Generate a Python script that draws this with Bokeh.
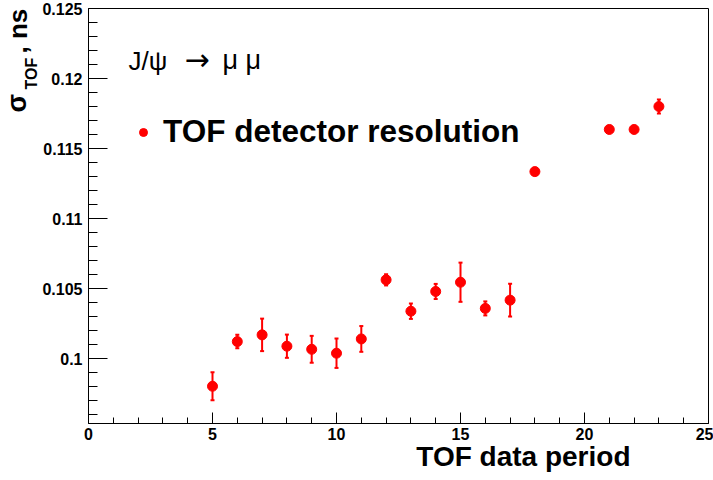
import math
from bokeh.plotting import figure
from bokeh.models import (ColumnDataSource, Whisker, TeeHead, Label, Legend, LegendItem,
                          FixedTicker, Range1d, LinearAxis)
from bokeh.embed import file_html
from bokeh.resources import INLINE

# ---- data ----
periods = [5, 6, 7, 8, 9, 10, 11, 12, 13, 14, 15, 16, 17, 18, 21, 22, 23]
sigma_tof = [0.09802, 0.10121, 0.10169, 0.10088, 0.10066, 0.10038, 0.10140, 0.10562,
             0.10338, 0.10479, 0.10545, 0.10358, 0.10417, 0.11335, 0.11636, 0.11636, 0.11800]
sigma_err = [0.00100, 0.00048, 0.00116, 0.00083, 0.00096, 0.00105, 0.00092, 0.00040,
             0.00055, 0.00054, 0.00140, 0.00050, 0.00117, 0.00020, 0.00020, 0.00020, 0.00050]

xticks_major = [0, 5, 10, 15, 20, 25]
xticks_minor = list(range(0, 26))
yticks_major = [0.1, 0.105, 0.11, 0.115, 0.12, 0.125]
ytick_labels = ["0.1", "0.105", "0.11", "0.115", "0.12", "0.125"]
yticks_minor = [0.096, 0.097, 0.098, 0.099, 0.100, 0.101, 0.102, 0.103, 0.104, 0.105,
                0.106, 0.107, 0.108, 0.109, 0.110, 0.111, 0.112, 0.113, 0.114, 0.115,
                0.116, 0.117, 0.118, 0.119, 0.120, 0.121, 0.122, 0.123, 0.124, 0.125]

X0, X1 = 0.0, 25.0
Y0, Y1 = 0.09536, 0.125

# canvas and the pixel box of the data frame
W, H = 713, 480
FL, FR, FT, FB = 88, 708, 8, 423
FONT = "Liberation Sans"

sx = (X1 - X0) / (FR - FL)   # data per pixel
sy = (Y1 - Y0) / (FB - FT)


def dx(px):
    return X0 + (px - FL) * sx


def dy(py):
    return Y0 + (FB - py) * sy


# the plotting frame spans the whole canvas; axes are pinned to the data box
p = figure(width=W, height=H, output_backend="svg", toolbar_location=None,
           x_range=Range1d(dx(0), dx(W)), y_range=Range1d(dy(H), dy(0)),
           x_axis_location=None, y_axis_location=None,
           min_border_left=0, min_border_right=0, min_border_top=0, min_border_bottom=0)
p.background_fill_color = "white"
p.border_fill_color = "white"
p.outline_line_color = None
p.xgrid.visible = False
p.ygrid.visible = False


def style_labels(ax):
    ax.major_label_text_font = FONT
    ax.major_label_text_font_style = "bold"
    ax.major_label_text_font_size = "16px"
    ax.major_label_text_color = "black"


xa = LinearAxis(fixed_location=Y0, bounds=(X0, X1),
                ticker=FixedTicker(ticks=xticks_major, minor_ticks=xticks_minor),
                major_tick_in=11, major_tick_out=0, minor_tick_in=6, minor_tick_out=0,
                axis_line_color="black", major_tick_line_color="black",
                minor_tick_line_color="black", major_label_standoff=4)
style_labels(xa)
p.add_layout(xa, "below")

ya = LinearAxis(fixed_location=X0, bounds=(Y0, Y1),
                ticker=FixedTicker(ticks=yticks_major, minor_ticks=yticks_minor),
                major_tick_in=19, major_tick_out=0, minor_tick_in=9, minor_tick_out=0,
                axis_line_color="black", major_tick_line_color="black",
                minor_tick_line_color="black", major_label_standoff=6)
ya.major_label_overrides = {t: lab for t, lab in zip(yticks_major, ytick_labels)}
style_labels(ya)
p.add_layout(ya, "left")

# top and right edges of the frame
top = LinearAxis(fixed_location=Y1, bounds=(X0, X1), ticker=FixedTicker(ticks=[]),
                 axis_line_color="black", major_tick_in=0, major_tick_out=0,
                 minor_tick_in=0, minor_tick_out=0)
p.add_layout(top, "above")
right = LinearAxis(fixed_location=X1, bounds=(Y0, Y1), ticker=FixedTicker(ticks=[]),
                   axis_line_color="black", major_tick_in=0, major_tick_out=0,
                   minor_tick_in=0, minor_tick_out=0)
p.add_layout(right, "right")

# data
lower = [s - e for s, e in zip(sigma_tof, sigma_err)]
upper = [s + e for s, e in zip(sigma_tof, sigma_err)]
src = ColumnDataSource(dict(x=periods, y=sigma_tof, lower=lower, upper=upper))

wh = Whisker(base="x", lower="lower", upper="upper", source=src, dimension="height",
             line_color="#ff0000", line_width=2,
             upper_head=TeeHead(size=4, line_color="#ff0000", line_width=2),
             lower_head=TeeHead(size=4, line_color="#ff0000", line_width=2))
p.add_layout(wh)

sc = p.scatter("x", "y", source=src, size=10, marker="circle",
               fill_color="#ff0000", line_color="#ff0000")

# legend (location measured from the frame's bottom-left = canvas bottom-left)
leg_h = 34
legend = Legend(items=[LegendItem(label="TOF detector resolution", renderers=[sc])],
                location=(133, H - (133 + leg_h / 2)),
                glyph_width=20, glyph_height=leg_h, label_height=leg_h,
                label_standoff=10, padding=0, margin=0, spacing=0,
                border_line_color=None, background_fill_alpha=0,
                label_text_font=FONT, label_text_font_style="bold",
                label_text_font_size="31.5px", label_text_color="black")
p.add_layout(legend)


# texts (anchor corrected for the renderer's baseline offset of ~0.38 em)
def lab(px, py, text, size, font=FONT, bold=False, angle=0.0):
    off = 0.38 * size
    if angle:
        ax, ay = px - off, py
    else:
        ax, ay = px, py - off
    return Label(x=dx(ax), y=dy(ay), text=text, text_font=font,
                 text_font_style="bold" if bold else "normal",
                 text_font_size=f"{size}px", text_color="black", angle=angle,
                 text_align="left", text_baseline="alphabetic")


p.add_layout(lab(128, 70, "J/ψ", 26))
p.add_layout(lab(184, 70, "→", 30, font="DejaVu Sans"))
p.add_layout(lab(222, 70, "μ μ", 27))

p.add_layout(Label(x=dx(630), y=dy(467 - 0.38 * 28), text="TOF data period",
                   text_font=FONT, text_font_style="bold", text_font_size="28px",
                   text_color="black", text_align="right", text_baseline="alphabetic"))

# y title (rotated, reading upwards)
ang = math.pi / 2
p.add_layout(lab(27, 112, "σ", 27, bold=True, angle=ang))
p.add_layout(lab(37, 89, "TOF", 16, bold=True, angle=ang))
p.add_layout(lab(27, 53, ", ns", 26, bold=True, angle=ang))

open("out.html", "w").write(file_html(p, INLINE))
